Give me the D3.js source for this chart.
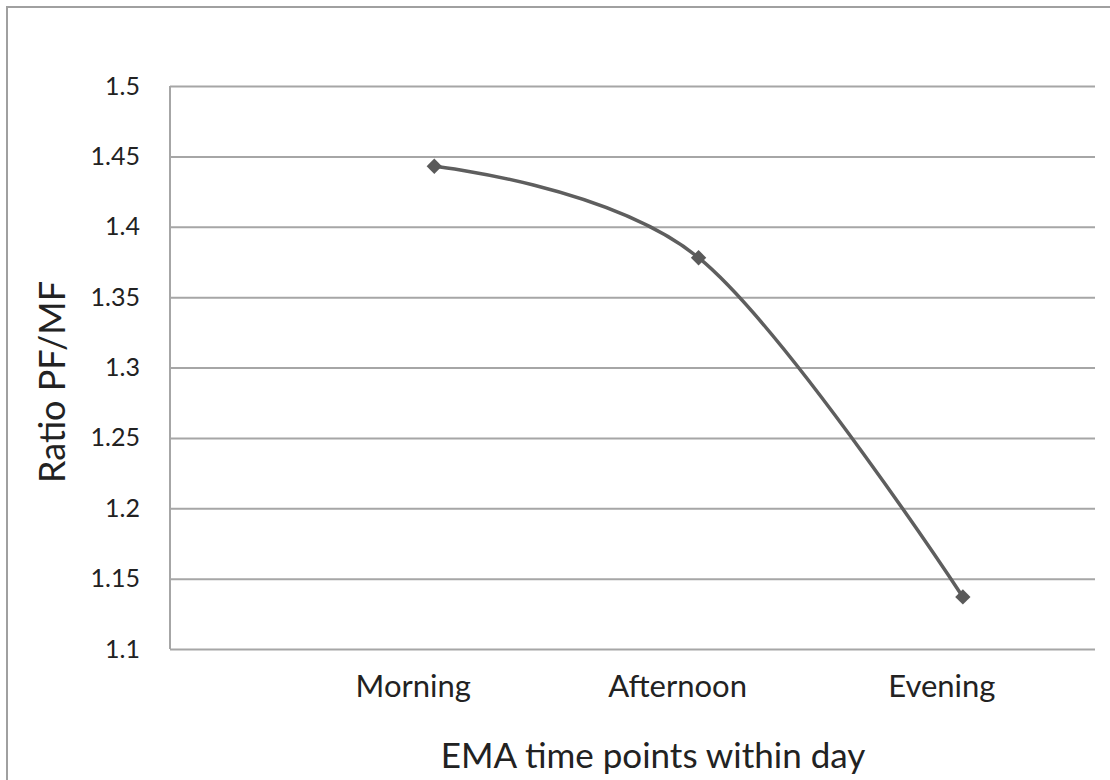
<!DOCTYPE html>
<html>
<head>
<meta charset="utf-8">
<script src="https://cdn.jsdelivr.net/npm/d3@7"></script>
<style>
  html, body { margin: 0; padding: 0; background: #fff; }
  svg { display: block; font-family: Lato, "Open Sans", sans-serif; }
</style>
</head>
<body>
<svg id="chart" width="1110" height="780"></svg>
<script>
// EMA ratio chart
const categories = ['Morning', 'Afternoon', 'Evening'];
const ratios = [1.443, 1.378, 1.137];
const yTicks = [1.1, 1.15, 1.2, 1.25, 1.3, 1.35, 1.4, 1.45, 1.5];
const xTitle = 'EMA time points within day';
const yTitle = 'Ratio PF/MF';

const svg = d3.select('#chart');
const margin = {top: 86, right: 15, bottom: 131, left: 170};
const width = 1110 - margin.left - margin.right;
const height = 780 - margin.top - margin.bottom;

// outer frame, runs off the right and bottom edges
svg.append('rect')
  .attr('x', 7).attr('y', 7)
  .attr('width', 1200).attr('height', 900)
  .attr('fill', 'none').attr('stroke', '#a0a0a0').attr('stroke-width', 2);

const x = d3.scaleLinear().domain([0, 3.5]).range([0, width]);
const y = d3.scaleLinear().domain([1.1, 1.5]).range([height, 0]);

const g = svg.append('g').attr('transform', `translate(${margin.left},${margin.top})`);

// gridlines + tick labels
const yAxis = g.append('g')
  .call(d3.axisLeft(y).tickValues(yTicks).tickSize(-width).tickPadding(30)
    .tickFormat(d => d3.format('')(+d.toFixed(2))));
yAxis.select('.domain').remove();
yAxis.selectAll('.tick line').attr('stroke', '#a6a6a6').attr('stroke-width', 2);
yAxis.selectAll('.tick text')
  .attr('fill', '#222').style('font-size', '25px').style('font-family', 'Lato, sans-serif');

// left border of plot area
g.append('line')
  .attr('x1', 0).attr('x2', 0).attr('y1', 0).attr('y2', height)
  .attr('stroke', '#a6a6a6').attr('stroke-width', 2);

// category labels
g.selectAll('.cat').data(categories).enter().append('text')
  .attr('class', 'cat')
  .attr('x', (d, i) => x(i + 1) - 21)
  .attr('y', height + 48)
  .attr('text-anchor', 'middle')
  .style('font-size', '31px')
  .attr('fill', '#222')
  .text(d => d);

// smoothed line
const pts = ratios.map((v, i) => [x(i + 1), y(v)]);
g.append('path')
  .datum(pts)
  .attr('fill', 'none')
  .attr('stroke', '#5e5e5e')
  .attr('stroke-width', 3.5)
  .attr('d', d3.line().curve(d3.curveCardinal.tension(0)));

// diamond markers
g.selectAll('.pt').data(pts).enter().append('path')
  .attr('class', 'pt')
  .attr('transform', d => `translate(${d[0]},${d[1]})`)
  .attr('d', d3.symbol(d3.symbolDiamond2, 150))
  .attr('fill', '#5a5a5a');

// axis titles
svg.append('text')
  .attr('x', 653).attr('y', 768)
  .attr('text-anchor', 'middle')
  .style('font-size', '35px')
  .attr('fill', '#222')
  .text(xTitle);

svg.append('text')
  .attr('transform', 'translate(65,382) rotate(-90)')
  .attr('text-anchor', 'middle')
  .style('font-size', '36px')
  .attr('fill', '#222')
  .text(yTitle);
</script>
</body>
</html>
